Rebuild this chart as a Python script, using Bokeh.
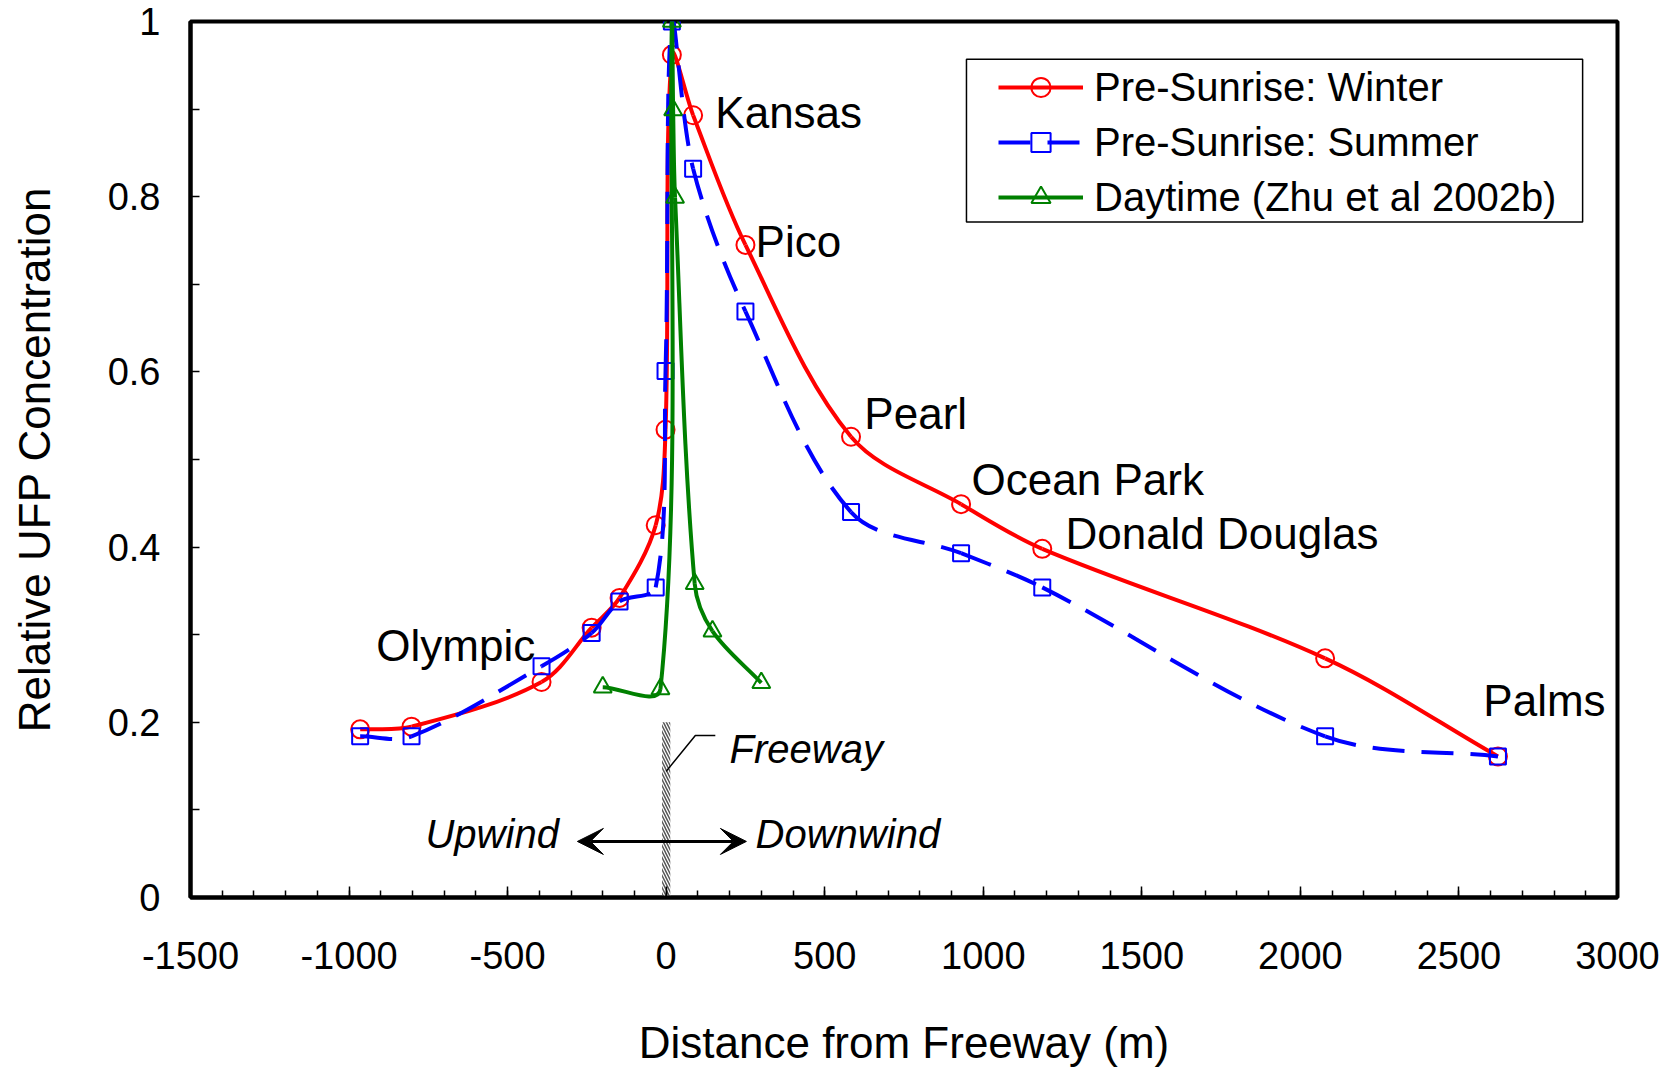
import math
from bokeh.plotting import figure
from bokeh.models import (Range1d, FixedTicker, NumeralTickFormatter, Arrow, VeeHead,
                          Legend, LegendItem, BoxAnnotation, ColumnDataSource)
from bokeh.core.properties import value
from bokeh.embed import file_html
from bokeh.resources import INLINE

# ---------------- data ----------------
distance_m = [-965, -803, -393, -235, -147, -33, -2, 18, 85, 250, 583, 930, 1186, 2078, 2623]
winter_rel = [0.192, 0.195, 0.246, 0.308, 0.342, 0.425, 0.534, 0.962, 0.893, 0.745, 0.526, 0.449, 0.398, 0.273, 0.161]
summer_rel = [0.184, 0.184, 0.264, 0.302, 0.338, 0.354, 0.601, 1.000, 0.832, 0.669, 0.440, 0.393, 0.354, 0.184, 0.161]
daytime_m = [-200, -18, 18, 22, 28, 90, 146, 300]
daytime_rel = [0.240, 0.238, 1.000, 0.899, 0.799, 0.358, 0.304, 0.245]

series_names = ["Pre-Sunrise: Winter", "Pre-Sunrise: Summer", "Daytime (Zhu et al 2002b)"]
site_names = ["Kansas", "Pico", "Pearl", "Ocean Park", "Donald Douglas", "Olympic", "Palms"]
site_label_x = [155, 282, 625, 963, 1259, -914, 2577]
site_label_y = [0.896, 0.749, 0.552, 0.477, 0.416, 0.288, 0.225]
side_notes = ["Freeway", "Upwind", "Downwind"]
side_note_x = [200, -759, 282]
side_note_y = [0.170, 0.072, 0.072]

x_ticks = list(range(-1500, 3001, 500))
x_minor = list(range(-1500, 3001, 100))
y_ticks = [0, 0.2, 0.4, 0.6, 0.8, 1.0]
y_minor = [0.1, 0.3, 0.5, 0.7, 0.9]

FONT = "Liberation Sans"
W, H = 1673, 1069
LEFT, RIGHT, TOP, BOTTOM = 190, 56, 21, 171
XMIN, XMAX, YMIN, YMAX = -1500, 3000, 0, 1
SX = (W - LEFT - RIGHT) / (XMAX - XMIN)
SY = (H - TOP - BOTTOM) / (YMAX - YMIN)


def smooth_segments(xs, ys):
    """Bezier control points (Excel-like smoothing), computed in screen space."""
    P = [(x * SX, y * SY) for x, y in zip(xs, ys)]
    n = len(P)
    out = {k: [] for k in ("x0", "y0", "x1", "y1", "cx0", "cy0", "cx1", "cy1")}

    def d(a, b):
        return math.hypot(a[0] - b[0], a[1] - b[1])

    for i in range(n - 1):
        p0 = P[i - 1] if i > 0 else P[i]
        p1 = P[i]
        p2 = P[i + 1]
        p3 = P[i + 2] if i + 2 < n else P[i + 1]
        d01, d12, d23 = d(p0, p1), d(p1, p2), d(p2, p3)
        f1 = d12 / (d01 + d12) / 3 if d01 + d12 > 0 else 0
        f2 = d12 / (d12 + d23) / 3 if d12 + d23 > 0 else 0
        c1 = (p1[0] + (p2[0] - p0[0]) * f1, p1[1] + (p2[1] - p0[1]) * f1)
        c2 = (p2[0] - (p3[0] - p1[0]) * f2, p2[1] - (p3[1] - p1[1]) * f2)
        out["x0"].append(xs[i]); out["y0"].append(ys[i])
        out["x1"].append(xs[i + 1]); out["y1"].append(ys[i + 1])
        out["cx0"].append(c1[0] / SX); out["cy0"].append(c1[1] / SY)
        out["cx1"].append(c2[0] / SX); out["cy1"].append(c2[1] / SY)
    return ColumnDataSource(out)


p = figure(width=W, height=H, output_backend="svg", toolbar_location=None,
           x_range=Range1d(XMIN, XMAX), y_range=Range1d(YMIN, YMAX),
           min_border_left=LEFT, min_border_right=RIGHT,
           min_border_top=TOP, min_border_bottom=BOTTOM)
p.xgrid.visible = False
p.ygrid.visible = False
p.outline_line_color = "black"
p.outline_line_width = 4
p.background_fill_color = "white"
p.border_fill_color = "white"

# axes
p.xaxis.ticker = FixedTicker(ticks=x_ticks, minor_ticks=x_minor)
p.yaxis.ticker = FixedTicker(ticks=y_ticks, minor_ticks=y_minor)
p.xaxis.formatter = NumeralTickFormatter(format="0")
p.yaxis.formatter = NumeralTickFormatter(format="0.[0]")
for ax in (p.xaxis[0], p.yaxis[0]):
    ax.axis_line_color = "black"
    ax.axis_line_width = 4
    ax.major_tick_line_color = "black"
    ax.minor_tick_line_color = "black"
    ax.major_tick_line_width = 1.5
    ax.minor_tick_line_width = 1.5
    ax.major_tick_out = 0
    ax.minor_tick_out = 0
    ax.major_label_text_font = FONT
    ax.major_label_text_font_size = "38px"
    ax.major_label_text_color = "black"
    ax.axis_label_text_font = FONT
    ax.axis_label_text_font_size = "44px"
    ax.axis_label_text_font_style = "normal"
    ax.axis_label_text_color = "black"
p.xaxis.major_tick_in = 11
p.xaxis.minor_tick_in = 7
p.yaxis.major_tick_in = 9
p.yaxis.minor_tick_in = 9
p.xaxis.major_label_standoff = 44
p.yaxis.major_label_standoff = 30
p.xaxis.axis_label = "Distance from Freeway (m)"
p.yaxis.axis_label = "Relative UFP Concentration"
p.xaxis.axis_label_standoff = 46
p.yaxis.axis_label_standoff = 46

# freeway band
p.quad(left=[-13], right=[13], bottom=[0], top=[0.2], fill_color="white",
       line_color=None, hatch_pattern="\\", hatch_color="#555555",
       hatch_weight=1.5, hatch_scale=6)
p.line(x=[0, 92, 155], y=[0.144, 0.185, 0.185], line_color="black", line_width=1.5)

# series
red_src = smooth_segments(distance_m, winter_rel)
blue_src = smooth_segments(distance_m, summer_rel)
green_src = smooth_segments(daytime_m, daytime_rel)

r_line = p.bezier(x0="x0", y0="y0", x1="x1", y1="y1", cx0="cx0", cy0="cy0",
                  cx1="cx1", cy1="cy1", source=red_src, line_color="#FF0000", line_width=4)
r_pts = p.scatter(distance_m, winter_rel, marker="circle", size=18, fill_color=None,
                  line_color="#FF0000", line_width=2)
b_line = p.bezier(x0="x0", y0="y0", x1="x1", y1="y1", cx0="cx0", cy0="cy0",
                  cx1="cx1", cy1="cy1", source=blue_src, line_color="#0000FF", line_width=4,
                  line_dash="32 17")
b_pts = p.scatter(distance_m, summer_rel, marker="square", size=16, fill_color=None,
                  line_color="#0000FF", line_width=2)
g_line = p.bezier(x0="x0", y0="y0", x1="x1", y1="y1", cx0="cx0", cy0="cy0",
                  cx1="cx1", cy1="cy1", source=green_src, line_color="#008000", line_width=4)
g_pts = p.scatter(daytime_m, daytime_rel, marker="triangle", size=18, fill_color=None,
                  line_color="#008000", line_width=2)

# texts
p.text(x=site_label_x, y=site_label_y, text=site_names, text_font=value(FONT),
       text_font_size="44px", text_baseline="middle", text_align="left", text_color="black")
p.text(x=side_note_x, y=side_note_y, text=side_notes, text_font=value(FONT),
       text_font_size="40px", text_font_style="italic", text_baseline="middle",
       text_align="left", text_color="black")

p.add_layout(Arrow(start=VeeHead(size=26, fill_color="black", line_color="black"),
                   end=VeeHead(size=26, fill_color="black", line_color="black"),
                   x_start=-280, y_start=0.064, x_end=253, y_end=0.064,
                   line_width=3, line_color="black"))

# legend frame + legend
p.add_layout(BoxAnnotation(left=947, right=2890, bottom=0.771, top=0.957,
                           fill_color="white", fill_alpha=1.0,
                           line_color="black", line_width=1.5, line_alpha=1.0))
legend = Legend(items=[LegendItem(label=series_names[0], renderers=[r_line, r_pts]),
                       LegendItem(label=series_names[1], renderers=[b_line, b_pts]),
                       LegendItem(label=series_names[2], renderers=[g_line, g_pts])],
                location=(808, 676), padding=0, margin=0, spacing=7,
                glyph_width=85, glyph_height=48, label_height=48, label_standoff=11,
                label_text_font=FONT, label_text_font_size="40px", label_text_color="black",
                border_line_alpha=0, background_fill_alpha=0)
p.add_layout(legend)

open("out.html", "w").write(file_html(p, INLINE))
